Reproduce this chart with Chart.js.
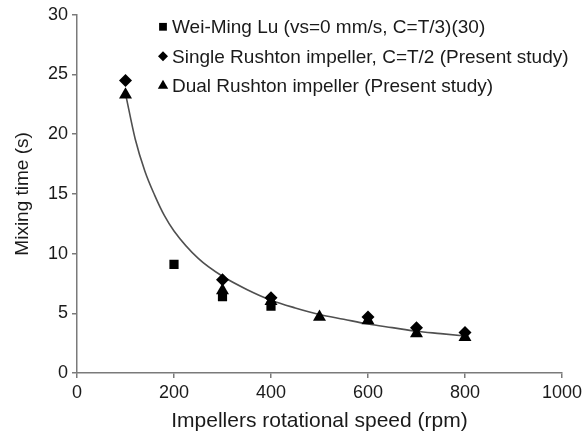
<!DOCTYPE html>
<html>
<head>
<meta charset="utf-8">
<script src="https://cdn.jsdelivr.net/npm/chart.js@4"></script>
<style>
  html, body { margin: 0; padding: 0; background: #ffffff; }
  #chart { display: block; }
</style>
</head>
<body>
<canvas id="chart" width="586" height="434"></canvas>
<script>
// Mixing time vs impeller speed

const legendLabels = [
  'Wei-Ming Lu (vs=0 mm/s, C=T/3)(30)',
  'Single Rushton impeller, C=T/2 (Present study)',
  'Dual Rushton impeller (Present study)'
];

const speedWeiMing = [200, 300, 400];
const timeWeiMing = [9.1, 6.4, 5.6];

const speedSingle = [100, 300, 400, 600, 700, 800];
const timeSingle = [24.5, 7.8, 6.3, 4.7, 3.8, 3.4];

const speedDual = [100, 300, 400, 500, 600, 700, 800];
const timeDual = [23.3, 6.9, 6.0, 4.7, 4.4, 3.3, 3.0];

// trend curve
const speedTrend = [100, 120, 140, 160, 180, 200, 250, 300, 350, 400, 450, 500, 550, 600, 650, 700, 750, 800];
const timeTrend = [23.4, 19.6, 16.9, 14.9, 13.2, 11.9, 9.6, 8.1, 7.0, 6.1, 5.45, 4.9, 4.5, 4.1, 3.8, 3.5, 3.3, 3.1];

const xTicks = [0, 200, 400, 600, 800, 1000];
const yTicks = [0, 5, 10, 15, 20, 25, 30];

const FONT = '"Liberation Sans", Arial, sans-serif';
const AXIS_COLOR = '#7a7a7a';
const TEXT_COLOR = '#1a1a1a';

function toPoints(xs, ys) {
  return xs.map((x, i) => ({ x: x, y: ys[i] }));
}

// legend drawn inside the plot, one row per series
const legendMarkerRadius = [5.5, 5, 6];

const insideLegend = {
  id: 'insideLegend',
  afterDatasetsDraw(chart) {
    const ctx = chart.ctx;
    const left = chart.chartArea.left + 86;
    const top = chart.chartArea.top + 12;
    ctx.save();
    ctx.font = '19px ' + FONT;
    ctx.textBaseline = 'middle';
    legendLabels.forEach((label, i) => {
      const ds = chart.data.datasets[i];
      const y = top + i * 29.5;
      ctx.fillStyle = '#000';
      Chart.helpers.drawPoint(ctx, {
        pointStyle: ds.pointStyle,
        radius: legendMarkerRadius[i],
        rotation: 0,
        borderWidth: 0
      }, left, y);
      ctx.fillStyle = TEXT_COLOR;
      ctx.fillText(label, left + 9, y + 1);
    });
    ctx.restore();
  }
};

const ctx = document.getElementById('chart').getContext('2d');

new Chart(ctx, {
  type: 'scatter',
  data: {
    datasets: [
      {
        label: legendLabels[0],
        data: toPoints(speedWeiMing, timeWeiMing),
        pointStyle: 'rect',
        pointRadius: 6.5,
        backgroundColor: '#000',
        borderWidth: 0
      },
      {
        label: legendLabels[1],
        data: toPoints(speedSingle, timeSingle),
        pointStyle: 'rectRot',
        pointRadius: 6.5,
        backgroundColor: '#000',
        borderWidth: 0
      },
      {
        label: legendLabels[2],
        data: toPoints(speedDual, timeDual),
        pointStyle: 'triangle',
        pointRadius: 7.5,
        backgroundColor: '#000',
        borderWidth: 0
      },
      {
        label: 'Trend',
        data: toPoints(speedTrend, timeTrend),
        showLine: true,
        pointRadius: 0,
        borderColor: '#505050',
        borderWidth: 1.6,
        cubicInterpolationMode: 'monotone',
        order: 5
      }
    ]
  },
  options: {
    responsive: false,
    animation: false,
    devicePixelRatio: 1,
    layout: { padding: { left: 0, right: 22, top: 14, bottom: 0 } },
    plugins: {
      legend: { display: false },
      tooltip: { enabled: false }
    },
    scales: {
      x: {
        type: 'linear',
        min: 0,
        max: 1000,
        afterBuildTicks(scale) {
          scale.ticks = xTicks.map(v => ({ value: v }));
        },
        afterFit(scale) { scale.height = 61; },
        grid: {
          drawOnChartArea: false,
          drawTicks: true,
          tickLength: 5,
          color: AXIS_COLOR,
          lineWidth: 1.5
        },
        border: { display: true, color: AXIS_COLOR, width: 1.5 },
        ticks: {
          color: TEXT_COLOR,
          padding: 4,
          maxRotation: 0,
          callback: v => String(v),
          font: { family: FONT, size: 18 }
        },
        title: {
          display: true,
          text: 'Impellers rotational speed (rpm)',
          color: TEXT_COLOR,
          padding: { top: 0, bottom: 0 },
          font: { family: FONT, size: 21 }
        }
      },
      y: {
        type: 'linear',
        min: 0,
        max: 30,
        afterBuildTicks(scale) {
          scale.ticks = yTicks.map(v => ({ value: v }));
        },
        afterFit(scale) { scale.width = 77; },
        grid: {
          drawOnChartArea: false,
          drawTicks: true,
          tickLength: 5,
          color: AXIS_COLOR,
          lineWidth: 1.5
        },
        border: { display: true, color: AXIS_COLOR, width: 1.5 },
        ticks: {
          color: TEXT_COLOR,
          padding: 4,
          callback: v => String(v),
          font: { family: FONT, size: 18 }
        },
        title: {
          display: true,
          text: 'Mixing time (s)',
          color: TEXT_COLOR,
          padding: { top: 11, bottom: 0 },
          font: { family: FONT, size: 19 }
        }
      }
    }
  },
  plugins: [insideLegend]
});
</script>
</body>
</html>
